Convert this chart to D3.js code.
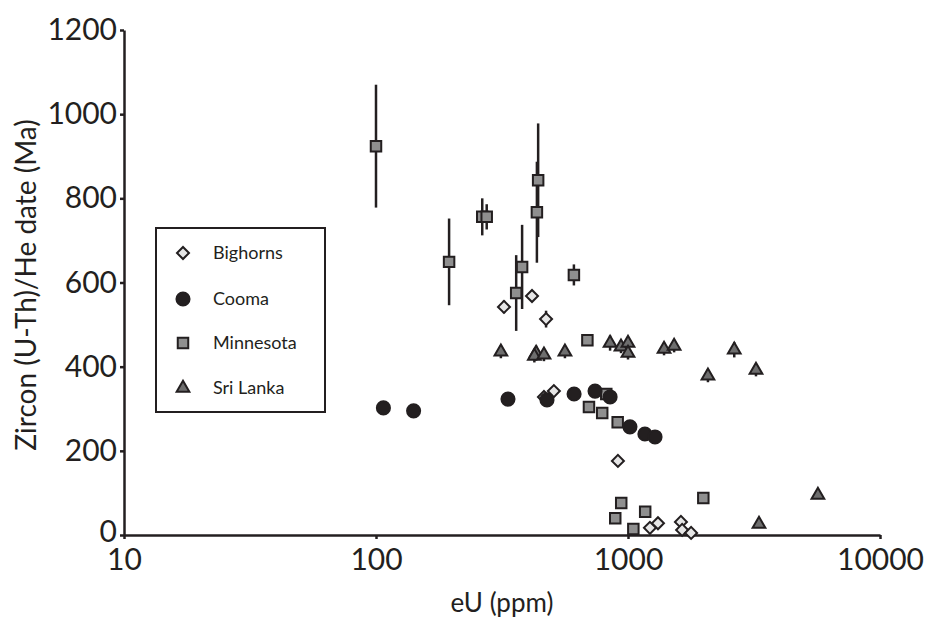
<!DOCTYPE html>
<html>
<head>
<meta charset="utf-8">
<script src="https://cdn.jsdelivr.net/npm/d3@7"></script>
<style>
  body { margin: 0; background: #fff; }
  svg text { font-family: Lato, "Open Sans", sans-serif; fill: #231f20; }
</style>
</head>
<body>
<div id="chart"></div>
<script>
// values: eU (ppm), date (Ma), error (Ma)
const bighornsEU  = [322, 416, 473, 508, 464, 912, 1222, 1315, 1622, 1640, 1780];
const bighornsAge = [542, 568, 513, 342, 328, 176, 17, 28, 31, 12, 5];
const bighornsErr = [15, 0, 20, 0, 0, 0, 0, 0, 0, 0, 0];

const coomaEU  = [107, 141, 334, 477, 611, 740, 849, 1018, 1167, 1280];
const coomaAge = [302, 295, 323, 321, 335, 342, 328, 257, 240, 233];

const minnesotaEU  = [100, 195, 264, 275, 380, 360, 440, 435, 610, 690, 820, 700, 790, 910, 940, 890, 1050, 1170, 1990];
const minnesotaAge = [924, 649, 756, 756, 637, 575, 843, 767, 618, 463, 335, 304, 290, 268, 76, 40, 14, 55, 88];
const minnesotaErr = [146, 103, 44, 30, 100, 90, 135, 120, 25, 12, 0, 0, 0, 0, 0, 0, 0, 0, 0];

const sriLankaEU  = [313, 432, 425, 464, 562, 849, 938, 1000, 1000, 1390, 1524, 2076, 2640, 3220, 3310, 5670];
const sriLankaAge = [435, 432, 425, 428, 435, 456, 447, 456, 432, 442, 449, 378, 440, 392, 26, 95];
const sriLankaErr = [15, 18, 15, 15, 15, 18, 15, 15, 15, 15, 15, 15, 18, 15, 0, 0];

const xTicks = [10, 100, 1000, 10000];
const yTicks = [0, 200, 400, 600, 800, 1000, 1200];
const legendNames = ["Bighorns", "Cooma", "Minnesota", "Sri Lanka"];

const width = 938, height = 627;
const ink = "#231f20";

const svg = d3.select("#chart")
    .append("svg")
    .attr("width", width)
    .attr("height", height);

const x = d3.scaleLog().domain([10, 10000]).range([124, 880]);
const y = d3.scaleLinear().domain([0, 1200]).range([535, 30]);

// axes
const xAxis = svg.append("g")
    .attr("transform", "translate(0," + y(0) + ")")
    .call(d3.axisBottom(x).tickValues(xTicks).tickFormat(d3.format("d")).tickSize(4).tickPadding(10).tickSizeOuter(0));
const yAxis = svg.append("g")
    .attr("transform", "translate(" + x(10) + ",0)")
    .call(d3.axisLeft(y).tickValues(yTicks).tickFormat(d3.format("d")).tickSize(4).tickPadding(3).tickSizeOuter(0));

[xAxis, yAxis].forEach(a => {
    a.select(".domain").attr("stroke", ink).attr("stroke-width", 2.5);
    a.selectAll(".tick line").attr("stroke", ink).attr("stroke-width", 2.5);
    a.selectAll(".tick text").attr("font-size", 30).attr("fill", ink)
        .style("font-family", "Lato, sans-serif");
});
// the "0" label sits a little high in the reference so it clears "10"
yAxis.selectAll(".tick text").filter(d => d === 0).attr("dy", "0.2em");

svg.append("text")
    .attr("x", 502)
    .attr("y", 612)
    .attr("text-anchor", "middle")
    .attr("font-size", 26)
    .text("eU (ppm)");

svg.append("text")
    .attr("transform", "translate(36," + 285 + ") rotate(-90)")
    .attr("text-anchor", "middle")
    .attr("font-size", 28)
    .text("Zircon (U-Th)/He date (Ma)");

// marker styles per series
const styles = {
    Bighorns:  { type: d3.symbolSquare, size: 72, fill: "#e6e6e6", rotate: 45 },
    Cooma:     { type: d3.symbolCircle, size: 135, fill: ink, rotate: 0 },
    Minnesota: { type: d3.symbolSquare, size: 110, fill: "#8f8f8f", rotate: 0 },
    "Sri Lanka": { type: d3.symbolTriangle, size: 70, fill: "#6e6e6e", rotate: 0 }
};

function toPoints(eu, age, err) {
    return eu.map((v, i) => ({ eu: v, age: age[i], err: err ? err[i] : 0 }));
}

const series = [
    { name: "Bighorns", points: toPoints(bighornsEU, bighornsAge, bighornsErr) },
    { name: "Minnesota", points: toPoints(minnesotaEU, minnesotaAge, minnesotaErr) },
    { name: "Sri Lanka", points: toPoints(sriLankaEU, sriLankaAge, sriLankaErr) },
    { name: "Cooma", points: toPoints(coomaEU, coomaAge, null) }
];

const plot = svg.append("g");

series.forEach(s => {
    const st = styles[s.name];
    const g = plot.append("g");
    g.selectAll("line")
        .data(s.points.filter(d => d.err > 0))
        .join("line")
        .attr("x1", d => x(d.eu))
        .attr("x2", d => x(d.eu))
        .attr("y1", d => y(d.age - d.err))
        .attr("y2", d => y(d.age + d.err))
        .attr("stroke", ink)
        .attr("stroke-width", 2.5);
    g.selectAll("path")
        .data(s.points)
        .join("path")
        .attr("d", d3.symbol().type(st.type).size(st.size))
        .attr("transform", d => "translate(" + x(d.eu) + "," + y(d.age) + ") rotate(" + st.rotate + ")")
        .attr("fill", st.fill)
        .attr("stroke", ink)
        .attr("stroke-width", 2);
});

// legend
const legend = svg.append("g");
legend.append("rect")
    .attr("x", 156)
    .attr("y", 228)
    .attr("width", 169)
    .attr("height", 184)
    .attr("fill", "#fff")
    .attr("stroke", ink)
    .attr("stroke-width", 2);

const legendY = [253, 299, 343, 388];
legendNames.forEach((name, i) => {
    const st = styles[name];
    legend.append("path")
        .attr("d", d3.symbol().type(st.type).size(st.size))
        .attr("transform", "translate(183," + legendY[i] + ") rotate(" + st.rotate + ")")
        .attr("fill", st.fill)
        .attr("stroke", ink)
        .attr("stroke-width", 2);
    legend.append("text")
        .attr("x", 213)
        .attr("y", legendY[i])
        .attr("dy", "0.35em")
        .attr("font-size", 18)
        .text(name);
});
</script>
</body>
</html>
